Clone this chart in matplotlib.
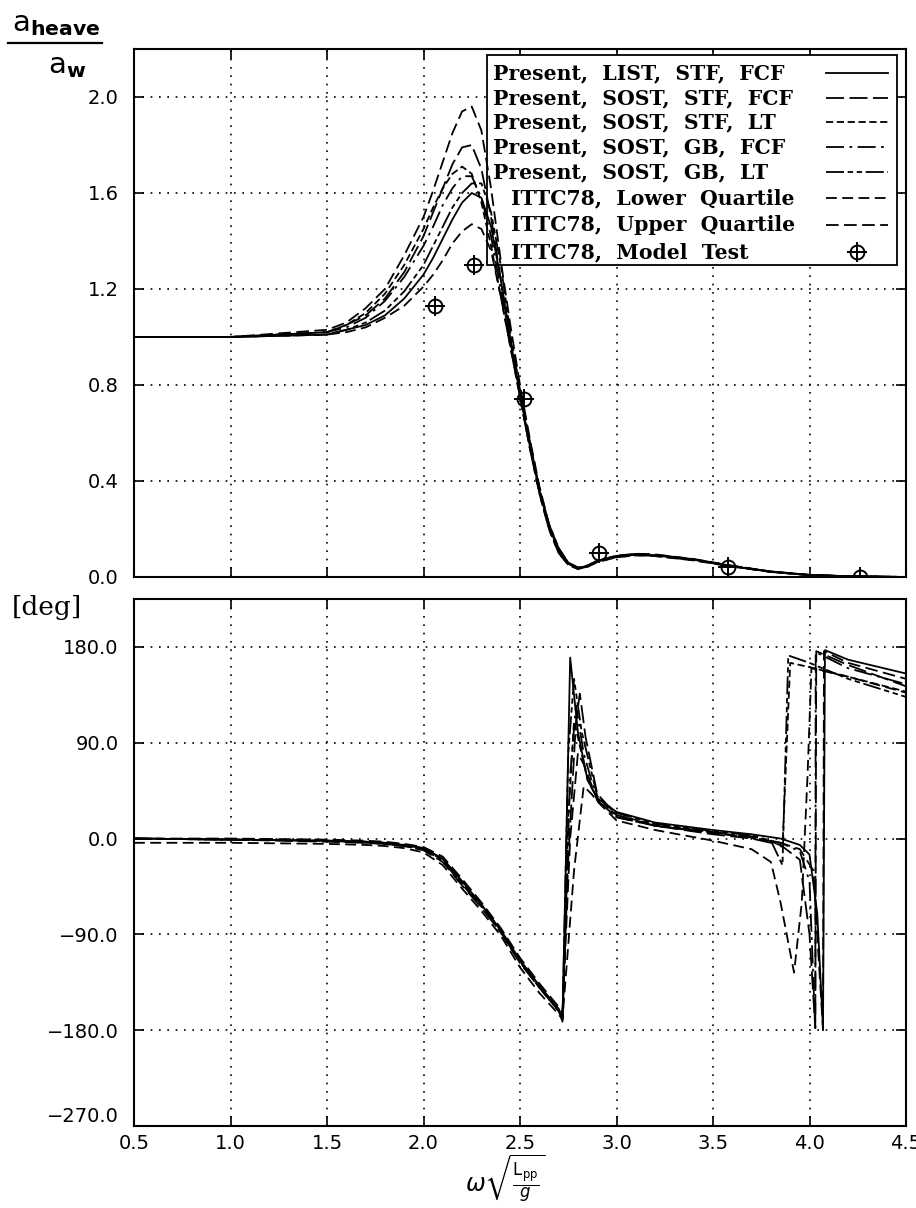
import matplotlib
matplotlib.use("Agg")
import matplotlib.pyplot as plt
from matplotlib.lines import Line2D
from matplotlib.patches import Rectangle

# ---- data: heave amplitude a_heave / a_w ----
omega_amp = [0.5, 1.0, 1.5, 1.6, 1.7, 1.8, 1.9, 2.0, 2.05, 2.1, 2.15, 2.2, 2.25, 2.3, 2.35,
             2.4, 2.45, 2.5, 2.55, 2.6, 2.65, 2.7, 2.75, 2.8, 2.85, 2.9, 3.0, 3.1, 3.2,
             3.4, 3.6, 3.8, 4.0, 4.2, 4.5]

amp_list_stf_fcf = [1.0, 1.0, 1.01, 1.03, 1.05, 1.09, 1.16, 1.26, 1.33, 1.41, 1.49, 1.56, 1.60, 1.58, 1.46,
                    1.24, 0.99, 0.76, 0.55, 0.36, 0.21, 0.11, 0.055, 0.036, 0.045, 0.065, 0.085, 0.093, 0.09,
                    0.072, 0.045, 0.022, 0.008, 0.003, 0.0]
amp_sost_stf_fcf = [1.0, 1.0, 1.02, 1.05, 1.09, 1.16, 1.27, 1.42, 1.52, 1.62, 1.72, 1.79, 1.80, 1.70, 1.50,
                    1.24, 0.99, 0.77, 0.56, 0.37, 0.22, 0.12, 0.058, 0.038, 0.047, 0.067, 0.088, 0.096, 0.093,
                    0.074, 0.046, 0.023, 0.009, 0.003, 0.0]
amp_sost_stf_lt = [1.0, 1.0, 1.02, 1.05, 1.10, 1.18, 1.30, 1.45, 1.54, 1.62, 1.68, 1.71, 1.68, 1.56, 1.38,
                   1.17, 0.96, 0.75, 0.54, 0.35, 0.20, 0.10, 0.052, 0.034, 0.043, 0.063, 0.083, 0.091, 0.088,
                   0.070, 0.044, 0.021, 0.008, 0.003, 0.0]
amp_sost_gb_fcf = [1.0, 1.0, 1.02, 1.04, 1.08, 1.15, 1.25, 1.38, 1.46, 1.55, 1.62, 1.67, 1.67, 1.58, 1.42,
                   1.20, 0.98, 0.76, 0.55, 0.36, 0.21, 0.11, 0.056, 0.036, 0.046, 0.066, 0.087, 0.095, 0.092,
                   0.073, 0.046, 0.022, 0.008, 0.003, 0.0]
amp_sost_gb_lt = [1.0, 1.0, 1.01, 1.03, 1.06, 1.11, 1.19, 1.30, 1.38, 1.46, 1.54, 1.60, 1.64, 1.64, 1.52,
                  1.30, 1.02, 0.78, 0.57, 0.37, 0.22, 0.12, 0.06, 0.038, 0.046, 0.066, 0.086, 0.094, 0.091,
                  0.073, 0.045, 0.022, 0.008, 0.003, 0.0]
amp_ittc_lower = [1.0, 1.0, 1.01, 1.02, 1.04, 1.08, 1.13, 1.21, 1.26, 1.32, 1.39, 1.44, 1.47, 1.45, 1.36,
                  1.17, 0.96, 0.75, 0.54, 0.35, 0.20, 0.10, 0.05, 0.033, 0.042, 0.062, 0.082, 0.09, 0.087,
                  0.069, 0.043, 0.021, 0.008, 0.003, 0.0]
amp_ittc_upper = [1.0, 1.0, 1.03, 1.06, 1.12, 1.20, 1.34, 1.50, 1.61, 1.73, 1.85, 1.94, 1.96, 1.86, 1.62,
                  1.32, 1.05, 0.80, 0.58, 0.38, 0.22, 0.12, 0.06, 0.04, 0.048, 0.068, 0.089, 0.097, 0.094,
                  0.075, 0.047, 0.023, 0.009, 0.003, 0.0]

model_omega = [2.06, 2.26, 2.52, 2.91, 3.58, 4.26]
model_amp = [1.13, 1.30, 0.74, 0.10, 0.04, 0.0]

# ---- data: heave phase [deg] ----
omega_head = [0.5, 1.0, 1.5, 1.7, 1.8, 1.9, 2.0, 2.1, 2.2, 2.3, 2.4, 2.5, 2.6, 2.7]

ph_x_list_stf_fcf = omega_head + [2.72, 2.76, 2.8, 2.85, 2.9, 3.0, 3.2, 3.5, 3.7, 3.85, 3.95, 4.0, 4.04, 4.07, 4.08, 4.2, 4.5]
ph_list_stf_fcf = [0, -1, -2, -3, -4, -6, -9, -19, -40, -62, -86, -114, -138, -160,
                   -172, 170, 100, 55, 38, 25, 15, 8, 4, 0, -6, -15, -70, -178, 177, 168, 155]

ph_x_sost_stf_fcf = omega_head + [2.72, 2.75, 2.79, 2.81, 2.84, 2.9, 3.0, 3.2, 3.5, 3.7, 3.85, 3.95, 4.0, 4.03, 4.035, 4.2, 4.5]
ph_sost_stf_fcf = [0, -1, -3, -4, -5, -7, -11, -22, -44, -65, -88, -117, -140, -162,
                   -168, -20, 110, 136, 95, 42, 22, 12, 4, 0, -6, -20, -90, -178, 176, 163, 143]

ph_x_sost_stf_lt = omega_head + [2.72, 2.75, 2.78, 2.8, 2.85, 2.9, 3.0, 3.2, 3.5, 3.7, 3.82, 3.86, 3.9, 4.0, 4.2, 4.5]
ph_sost_stf_lt = [0, -1, -2, -4, -5, -7, -10, -20, -42, -63, -87, -116, -140, -162,
                  -170, 20, 110, 95, 55, 38, 22, 13, 6, 1, -4, -8, 165, 161, 152, 138]

ph_x_sost_gb_fcf = omega_head + [2.72, 2.76, 2.79, 2.83, 2.9, 3.0, 3.2, 3.5, 3.7, 3.85, 3.95, 4.0, 4.03, 4.032, 4.2, 4.5]
ph_sost_gb_fcf = [0, -1, -2, -3, -5, -7, -10, -21, -43, -64, -88, -116, -139, -161,
                  -170, 60, 125, 80, 36, 20, 12, 6, 2, -4, -12, -40, -180, 175, 160, 145]

ph_x_sost_gb_lt = omega_head + [2.72, 2.75, 2.78, 2.82, 2.9, 3.0, 3.2, 3.5, 3.7, 3.8, 3.86, 3.89, 4.0, 4.2, 4.5]
ph_sost_gb_lt = [0, -1, -2, -3, -4, -6, -9, -19, -41, -62, -86, -115, -139, -160,
                 -168, 80, 150, 100, 40, 24, 14, 7, 3, -2, -25, 172, 165, 150, 133]

ph_x_ittc_lower = omega_head + [2.72, 2.78, 2.83, 2.87, 2.9, 3.0, 3.2, 3.5, 3.7, 3.8, 3.85, 3.92, 3.96, 3.99, 4.01, 4.2, 4.5]
ph_ittc_lower = [-4, -4, -5, -6, -7, -9, -13, -25, -47, -68, -91, -121, -145, -165,
                 -170, -30, 49, 42, 35, 17, 8, -2, -10, -22, -60, -126, -60, 60, 160, 152, 137]

ph_x_ittc_upper = omega_head + [2.72, 2.76, 2.8, 2.83, 2.9, 3.0, 3.2, 3.5, 3.7, 3.85, 3.95, 4.02, 4.07, 4.075, 4.2, 4.5]
ph_ittc_upper = [0, 0, -1, -2, -3, -5, -8, -17, -38, -60, -84, -112, -136, -158,
                 -165, 0, 80, 70, 36, 20, 12, 5, 1, -4, -10, -30, -180, 176, 165, 150]

labels = ["Present,  LIST,  STF,  FCF", "Present,  SOST,  STF,  FCF", "Present,  SOST,  STF,  LT",
          "Present,  SOST,  GB,  FCF", "Present,  SOST,  GB,  LT", "ITTC78,  Lower  Quartile",
          "ITTC78,  Upper  Quartile", "ITTC78,  Model  Test"]

styles = ["-", (0, (10, 3)), (0, (4, 2)), (0, (10, 3, 1.5, 3)), (0, (10, 2, 3, 2, 3, 2)),
          (0, (6, 3)), (0, (7, 3))]

amps = [amp_list_stf_fcf, amp_sost_stf_fcf, amp_sost_stf_lt, amp_sost_gb_fcf, amp_sost_gb_lt,
        amp_ittc_lower, amp_ittc_upper]
phases = [(ph_x_list_stf_fcf, ph_list_stf_fcf), (ph_x_sost_stf_fcf, ph_sost_stf_fcf),
          (ph_x_sost_stf_lt, ph_sost_stf_lt), (ph_x_sost_gb_fcf, ph_sost_gb_fcf),
          (ph_x_sost_gb_lt, ph_sost_gb_lt), (ph_x_ittc_lower, ph_ittc_lower),
          (ph_x_ittc_upper, ph_ittc_upper)]

W, H = 916, 1208


def fx(px):
    return px / W


def fy(py):
    return 1 - py / H


fig = plt.figure(figsize=(W / 100, H / 100), dpi=100)
ax1 = fig.add_axes([fx(134), fy(577), 772 / W, (577 - 49) / H])
ax2 = fig.add_axes([fx(134), fy(1126), 772 / W, (1126 - 599) / H])

LW = 1.3
for y, ls in zip(amps, styles):
    ax1.plot(omega_amp, y, color="black", lw=LW, linestyle=ls, zorder=3)
ax1.plot(model_omega, model_amp, linestyle="none", marker="o", ms=10, mfc="none", mec="black", mew=1.4, zorder=3)
ax1.plot(model_omega, model_amp, linestyle="none", marker="+", ms=15, mec="black", mew=1.4, zorder=3)

for (x, y), ls in zip(phases, styles):
    ax2.plot(x, y, color="black", lw=LW, linestyle=ls)

tick_font = {"family": "DejaVu Sans", "size": 14}
for ax in (ax1, ax2):
    ax.set_xlim(0.5, 4.5)
    ax.set_xticks([0.5, 1.0, 1.5, 2.0, 2.5, 3.0, 3.5, 4.0, 4.5])
    ax.grid(True, color="black", linestyle=(0, (1, 4)), linewidth=1.2)
    ax.tick_params(direction="in", top=True, right=True, length=7, width=1.2)
    ax.tick_params(axis="y", pad=11)
    ax.tick_params(axis="x", pad=6)
    for s in ax.spines.values():
        s.set_linewidth(1.5)

ax1.set_ylim(0, 2.2)
ax1.set_yticks([0.0, 0.4, 0.8, 1.2, 1.6, 2.0])
ax1.set_yticklabels(["0.0", "0.4", "0.8", "1.2", "1.6", "2.0"], fontdict=tick_font)
ax1.set_xticklabels([])

ax2.set_ylim(-270, 225)
ax2.set_yticks([-270, -180, -90, 0, 90, 180])
ax2.set_yticklabels(["\u2212270.0", "\u2212180.0", "\u221290.0", "0.0", "90.0", "180.0"], fontdict=tick_font)
ax2.get_yticklabels()[0].set_verticalalignment("bottom")
ax2.set_xticklabels(["0.5", "1.0", "1.5", "2.0", "2.5", "3.0", "3.5", "4.0", "4.5"], fontdict=tick_font)

# legend box drawn by hand inside ax1: white box over the grid, curves stay on top
ax1.add_patch(Rectangle((fx(487), fy(265)), 410 / W, 210 / H, transform=fig.transFigure, clip_on=False,
                        facecolor="white", edgecolor="black", lw=1.3, zorder=2))
row_y = [73, 98, 122, 147, 172, 198, 225, 252]
text_x = [493, 493, 493, 493, 493, 511, 511, 511]
leg_font = {"family": "DejaVu Serif", "size": 14.7, "weight": "bold"}
for i, lab in enumerate(labels):
    ax1.text(fx(text_x[i]), fy(row_y[i]), lab, fontdict=leg_font, va="center", ha="left",
             transform=fig.transFigure, zorder=2.5)
    if i < len(styles):
        ax1.add_line(Line2D([fx(826), fx(888)], [fy(row_y[i]), fy(row_y[i])], color="black", lw=LW,
                            linestyle=styles[i], transform=fig.transFigure, clip_on=False, zorder=2.5))
ax1.add_line(Line2D([fx(857)], [fy(row_y[7])], linestyle="none", marker="o", ms=10, mfc="none",
                    mec="black", mew=1.4, transform=fig.transFigure, clip_on=False, zorder=2.5))
ax1.add_line(Line2D([fx(857)], [fy(row_y[7])], linestyle="none", marker="+", ms=15,
                    mec="black", mew=1.4, transform=fig.transFigure, clip_on=False, zorder=2.5))

# axis labels
fig.text(fx(12), fy(24), r"$\mathrm{a}_{\mathbf{heave}}$", fontsize=21, va="center", ha="left")
fig.add_artist(Line2D([fx(8), fx(102)], [fy(43), fy(43)], color="black", lw=1.6))
fig.text(fx(48), fy(66), r"$\mathrm{a}_{\mathbf{w}}$", fontsize=21, va="center", ha="left")
fig.text(fx(12), fy(608), "[deg]", fontsize=19, family="DejaVu Serif", va="center", ha="left")
fig.text(fx(505), fy(1178), r"$\omega\sqrt{\frac{\mathrm{L_{pp}}}{g}}$", fontsize=17, va="center", ha="center")

fig.savefig("out.png", dpi=100)
